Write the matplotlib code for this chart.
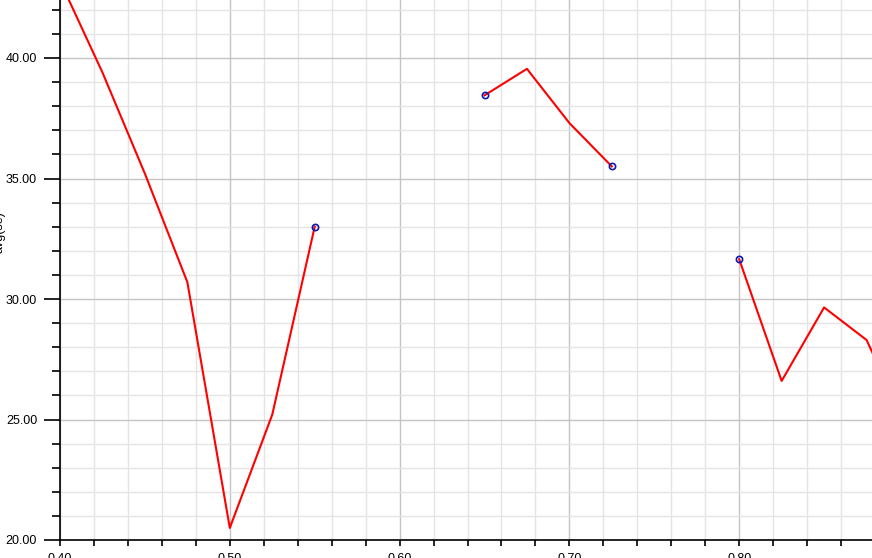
import numpy as np
import matplotlib.pyplot as plt
from matplotlib.ticker import MultipleLocator, FormatStrFormatter

plt.rcParams['font.family'] = ['Liberation Sans', 'DejaVu Sans']

# x positions and avg(se) values, NaN = no data
xs = [0.400, 0.425, 0.450, 0.475, 0.500, 0.525, 0.550, 0.575, 0.600, 0.625,
      0.650, 0.675, 0.700, 0.725, 0.750, 0.775, 0.800, 0.825, 0.850, 0.875, 0.900]
avg_se = [43.2, 39.4, 35.2, 30.7, 20.5, 25.2, 33.0, np.nan, np.nan, np.nan,
          38.45, 39.55, 37.3, 35.5, np.nan, np.nan, 31.65, 26.6, 29.65, 28.3, 24.5]

x = np.array(xs)
y = np.array(avg_se)

fig = plt.figure(figsize=(8.72, 5.58), dpi=100)
ax = fig.add_axes([60/872, 18/558, 812/872, 540/558])

ax.plot(x, y, color='red', lw=1.5, zorder=3)

# points at the edge of a gap get a marker
ok = ~np.isnan(y)
prev_ok = np.r_[False, ok[:-1]]
next_ok = np.r_[ok[1:], False]
edge = ok & ~(prev_ok & next_ok)
edge &= (x > x[0]) & (x < x[-1])
ax.plot(x[edge], y[edge], 'o', mfc='none', mec='#0a1ab0', ms=4.5, mew=1.2, zorder=4)

ax.set_xlim(0.40, 0.40 + 812/1698)
ax.set_ylim(20, 20 + 540/24.1)

ax.xaxis.set_major_locator(MultipleLocator(0.1))
ax.xaxis.set_minor_locator(MultipleLocator(0.02))
ax.yaxis.set_major_locator(MultipleLocator(5))
ax.yaxis.set_minor_locator(MultipleLocator(1))
ax.xaxis.set_major_formatter(FormatStrFormatter('%.2f'))
ax.yaxis.set_major_formatter(FormatStrFormatter('%.2f'))

ax.grid(which='major', color='#c4c4c4', lw=1)
ax.grid(which='minor', color='#e4e4e4', lw=1)
ax.set_axisbelow(True)

for s in ['top', 'right']:
    ax.spines[s].set_visible(False)
for s in ['left', 'bottom']:
    ax.spines[s].set_linewidth(1.2)

ax.tick_params(which='both', labelsize=9, width=1.2)
ax.tick_params(axis='y', which='major', length=11.5, pad=5)
ax.tick_params(axis='y', which='minor', length=6)
ax.tick_params(axis='x', which='major', length=4.5, pad=4.5)
ax.tick_params(axis='x', which='minor', length=4.5)

fig.text(0.0, 1 - 232/558, 'avg(se)', rotation=90, ha='center', va='center', fontsize=9)

fig.savefig('out.png', dpi=100)
